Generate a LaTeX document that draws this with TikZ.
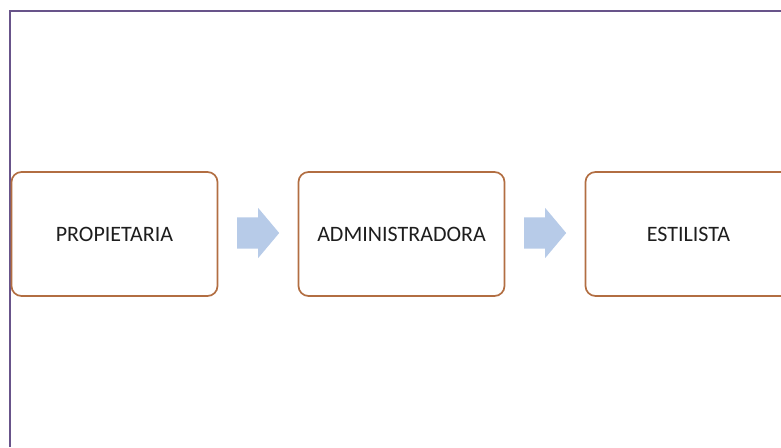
\documentclass[tikz,border=0pt]{standalone}
\usepackage{fontspec}
\setmainfont{Carlito}
\usetikzlibrary{calc,shapes.arrows}
\definecolor{framepurple}{RGB}{104,84,138}
\definecolor{boxbrown}{RGB}{178,110,66}
\definecolor{arrowblue}{RGB}{183,203,232}
\definecolor{textgray}{RGB}{30,30,30}

\begin{document}
\begin{tikzpicture}[x=1pt,y=-1pt,
  rolebox/.style={draw=boxbrown,line width=1.7pt,rounded corners=10pt,fill=white,
    minimum width=206pt,minimum height=124pt,inner sep=0pt,
    font=\fontsize{22}{26}\selectfont,text=textgray},
  flowarrow/.style={single arrow,fill=arrowblue,draw=none,inner xsep=0pt,
    inner ysep=15.5pt,minimum height=42pt,single arrow head extend=9.5pt,
    single arrow tip angle=100,anchor=tail,xshift=-21pt,yshift=1pt}]
  \useasboundingbox (0,0) rectangle (781,447);
  \clip (0,0) rectangle (781,447);
  % Outer frame, open to the right and below
  \draw[framepurple,line width=2pt] (9.5,447) -- (9.5,10.5) -- (781,10.5);
  % Roles
  \node[rolebox] (prop) at (114.5,234) {PROPIETARIA};
  \node[rolebox] (admin) at (401.5,234) {ADMINISTRADORA};
  \node[rolebox] (estil) at (688.5,234) {ESTILISTA};
  % Block arrows between the roles
  \node[flowarrow] (a1) at ($(prop.east)!0.5!(admin.west)$) {};
  \node[flowarrow] (a2) at ($(admin.east)!0.5!(estil.west)$) {};
\end{tikzpicture}
\end{document}
